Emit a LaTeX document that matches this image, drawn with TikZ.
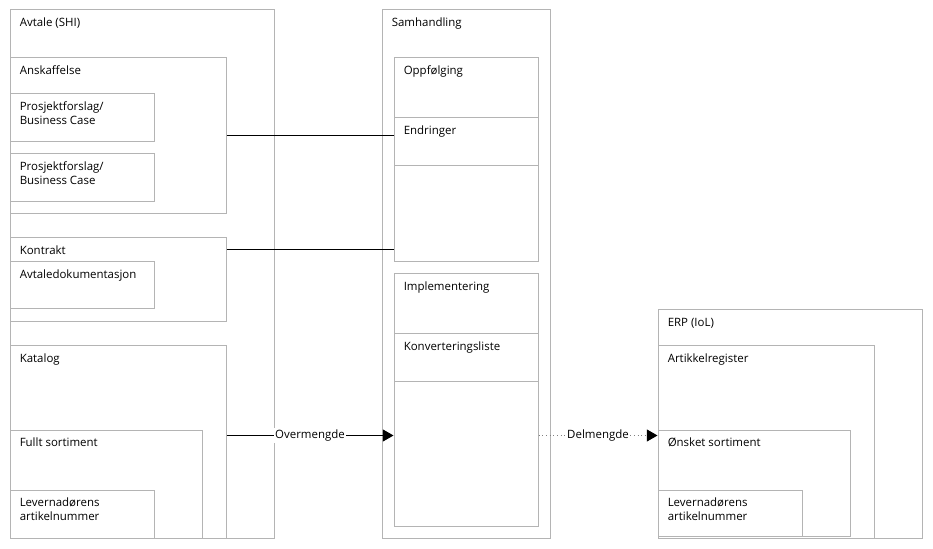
\documentclass[tikz,border=0pt]{standalone}
\usepackage{fontspec}
\setmainfont{Open Sans}
\usetikzlibrary{fit,arrows.meta}
\definecolor{boxgray}{RGB}{180,180,180}
\tikzset{
	box/.style={draw=boxgray, line width=0.75pt, inner sep=0pt},
	lbl/.style={anchor=base west, inner sep=0pt, font=\fontsize{8.6}{10.5}\selectfont},
	link/.style={line width=0.75pt},
	tip/.style={-{Triangle[length=8pt,width=9pt,black]}},
	tag/.style={fill=white, inner sep=1pt, font=\fontsize{8.6}{10.5}\selectfont}
}

\begin{document}
\begin{tikzpicture}[x=0.75pt,y=-0.75pt]
	\useasboundingbox (0,0) rectangle (933,549);
	%AVTALE (SHI)
	\node[box,fit={(10,10)(274,538)}] (avtale) {};
	\node[box,fit={(10,58)(226,214)}] (anskaffelse) {};
	\node[box,fit={(10,94)(154,142)}] (prosjektA) {};
	\node[box,fit={(10,154)(154,202)}] (prosjektB) {};
	\node[box,fit={(10,238)(226,322)}] (kontrakt) {};
	\node[box,fit={(10,262)(154,309)}] (avtaledok) {};
	\node[box,fit={(10,346)(226,538)}] (katalog) {};
	\node[box,fit={(10,430)(202,538)}] (fullt) {};
	\node[box,fit={(10,490)(154,538)}] (levnr) {};
	%SAMHANDLING
	\node[box,fit={(382,10)(550,538)}] (samhandling) {};
	\node[box,fit={(394,58)(538,118)}] (oppfolging) {};
	\node[box,fit={(394,118)(538,166)}] (endringer) {};
	\node[box,fit={(394,166)(538,262)}] (oppfTom) {};
	\node[box,fit={(394,274)(538,334)}] (implementering) {};
	\node[box,fit={(394,334)(538,382)}] (konvertering) {};
	\node[box,fit={(394,382)(538,526)}] (implTom) {};
	%ERP (IoL)
	\node[box,fit={(658,310)(922,538)}] (erp) {};
	\node[box,fit={(658,346)(874,538)}] (artikkelreg) {};
	\node[box,fit={(658,430)(850,536)}] (onsket) {};
	\node[box,fit={(658,490)(802,536)}] (levnrERP) {};

	%LABELS
	\foreach \b/\t in {avtale/Avtale (SHI), anskaffelse/Anskaffelse,
		prosjektA/{Prosjektforslag/\\Business Case}, prosjektB/{Prosjektforslag/\\Business Case},
		kontrakt/Kontrakt, avtaledok/Avtaledokumentasjon, katalog/Katalog,
		fullt/Fullt sortiment, levnr/{Levernadørens\\artikelnummer},
		samhandling/Samhandling, oppfolging/Oppfølging, endringer/Endringer,
		implementering/Implementering, konvertering/Konverteringsliste,
		erp/ERP (IoL), artikkelreg/Artikkelregister, onsket/Ønsket sortiment,
		levnrERP/{Levernadørens\\artikelnummer}}
		\node[lbl] (\b T) at ([shift={(10,17)}]\b.north west)
			{\begin{tabular}[t]{@{}l@{}}\t\end{tabular}};

	%CONNECTORS
	\coordinate (kontraktUt) at ([shift={(0,12)}]kontrakt.north east);
	\coordinate (katalogUt) at ([shift={(0,90)}]katalog.north east);
	\coordinate (implUt) at (katalogUt -| implTom.east);
	\draw[link] (anskaffelse.east) -- (anskaffelse.east -| endringer.west);
	\draw[link] (kontraktUt) -- (kontraktUt -| oppfTom.west);
	\draw[link,tip] (katalogUt) -- (katalogUt -| implTom.west)
		node[tag,midway] (overmengde) {Overmengde};
	\draw[link,tip,gray,dotted] (implUt) -- (implUt -| onsket.west)
		node[tag,midway,text=black] (delmengde) {Delmengde};
\end{tikzpicture}
\end{document}
